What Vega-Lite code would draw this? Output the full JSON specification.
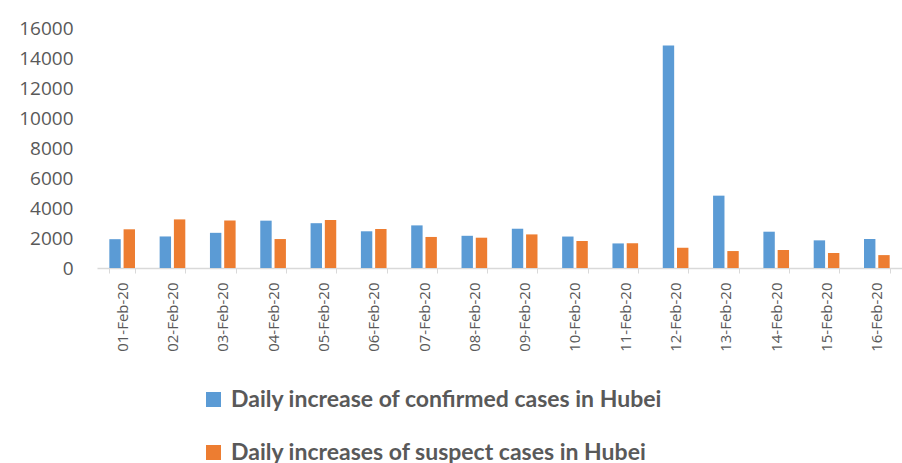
{
  "$schema": "https://vega.github.io/schema/vega-lite/v6.json",
  "autosize": "none",
  "width": 805,
  "height": 240,
  "padding": {"left": 97, "top": 28, "right": 0, "bottom": 195},
  "background": "white",
  "config": {"view": {"stroke": null}},
  "data": {"values": [
    {"date": "01-Feb-20", "series": "Daily increase of confirmed cases in Hubei", "value": 1921},
    {"date": "01-Feb-20", "series": "Daily increases of suspect cases in Hubei", "value": 2580},
    {"date": "02-Feb-20", "series": "Daily increase of confirmed cases in Hubei", "value": 2103},
    {"date": "02-Feb-20", "series": "Daily increases of suspect cases in Hubei", "value": 3240},
    {"date": "03-Feb-20", "series": "Daily increase of confirmed cases in Hubei", "value": 2345},
    {"date": "03-Feb-20", "series": "Daily increases of suspect cases in Hubei", "value": 3170},
    {"date": "04-Feb-20", "series": "Daily increase of confirmed cases in Hubei", "value": 3156},
    {"date": "04-Feb-20", "series": "Daily increases of suspect cases in Hubei", "value": 1930},
    {"date": "05-Feb-20", "series": "Daily increase of confirmed cases in Hubei", "value": 2987},
    {"date": "05-Feb-20", "series": "Daily increases of suspect cases in Hubei", "value": 3200},
    {"date": "06-Feb-20", "series": "Daily increase of confirmed cases in Hubei", "value": 2447},
    {"date": "06-Feb-20", "series": "Daily increases of suspect cases in Hubei", "value": 2600},
    {"date": "07-Feb-20", "series": "Daily increase of confirmed cases in Hubei", "value": 2841},
    {"date": "07-Feb-20", "series": "Daily increases of suspect cases in Hubei", "value": 2070},
    {"date": "08-Feb-20", "series": "Daily increase of confirmed cases in Hubei", "value": 2147},
    {"date": "08-Feb-20", "series": "Daily increases of suspect cases in Hubei", "value": 2020},
    {"date": "09-Feb-20", "series": "Daily increase of confirmed cases in Hubei", "value": 2618},
    {"date": "09-Feb-20", "series": "Daily increases of suspect cases in Hubei", "value": 2240},
    {"date": "10-Feb-20", "series": "Daily increase of confirmed cases in Hubei", "value": 2097},
    {"date": "10-Feb-20", "series": "Daily increases of suspect cases in Hubei", "value": 1800},
    {"date": "11-Feb-20", "series": "Daily increase of confirmed cases in Hubei", "value": 1638},
    {"date": "11-Feb-20", "series": "Daily increases of suspect cases in Hubei", "value": 1650},
    {"date": "12-Feb-20", "series": "Daily increase of confirmed cases in Hubei", "value": 14840},
    {"date": "12-Feb-20", "series": "Daily increases of suspect cases in Hubei", "value": 1350},
    {"date": "13-Feb-20", "series": "Daily increase of confirmed cases in Hubei", "value": 4823},
    {"date": "13-Feb-20", "series": "Daily increases of suspect cases in Hubei", "value": 1130},
    {"date": "14-Feb-20", "series": "Daily increase of confirmed cases in Hubei", "value": 2420},
    {"date": "14-Feb-20", "series": "Daily increases of suspect cases in Hubei", "value": 1200},
    {"date": "15-Feb-20", "series": "Daily increase of confirmed cases in Hubei", "value": 1843},
    {"date": "15-Feb-20", "series": "Daily increases of suspect cases in Hubei", "value": 1000},
    {"date": "16-Feb-20", "series": "Daily increase of confirmed cases in Hubei", "value": 1933},
    {"date": "16-Feb-20", "series": "Daily increases of suspect cases in Hubei", "value": 860}
  ]},
  "mark": {"type": "bar"},
  "encoding": {
    "x": {
      "field": "date", "type": "nominal", "sort": null,
      "scale": {"paddingInner": 0.49, "paddingOuter": 0.245},
      "axis": {
        "title": null, "labelAngle": -90, "labelFont": "Open Sans", "labelFontSize": 15,
        "labelColor": "#595959", "domainColor": "#d9d9d9", "domainWidth": 1.5,
        "tickColor": "#d9d9d9", "tickSize": 5, "tickBand": "extent", "labelPadding": 9
      }
    },
    "xOffset": {
      "field": "series", "type": "nominal",
      "scale": {"paddingInner": 0.2, "paddingOuter": 0}
    },
    "y": {
      "field": "value", "type": "quantitative",
      "scale": {"domain": [0, 16000]},
      "axis": {
        "title": null, "values": [0, 2000, 4000, 6000, 8000, 10000, 12000, 14000, 16000],
        "format": "d",
        "grid": false, "domain": false, "ticks": false, "labelPadding": 24,
        "labelFont": "Open Sans", "labelFontSize": 19, "labelColor": "#595959"
      }
    },
    "color": {
      "field": "series", "type": "nominal",
      "scale": {
        "domain": ["Daily increase of confirmed cases in Hubei", "Daily increases of suspect cases in Hubei"],
        "range": ["#5B9BD5", "#ED7D31"]
      },
      "legend": {
        "title": null, "orient": "none", "legendX": 105, "legendY": 360,
        "direction": "vertical", "symbolType": "square", "symbolSize": 225,
        "symbolStrokeWidth": 0, "labelFont": "Lato", "labelFontWeight": "bold",
        "labelFontSize": 23, "labelColor": "#595959", "labelOffset": 6,
        "rowPadding": 29, "labelLimit": 0
      }
    }
  }
}
